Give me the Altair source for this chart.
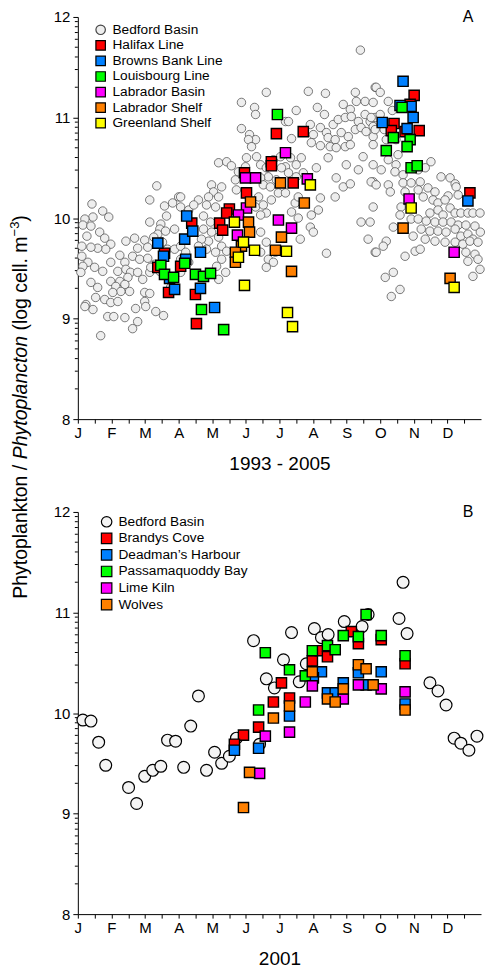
import altair as alt
import pandas as pd

FONT = "Liberation Sans"

# ---------------- Panel A (1993 - 2005) : (month, log cells m-3) ----------------
sites_a = ["Bedford Basin", "Halifax Line", "Browns Bank Line", "Louisbourg Line",
           "Labrador Basin", "Labrador Shelf", "Greenland Shelf"]
colors_a = ["#EEEEEE", "#FF0000", "#0080FF", "#00FF00", "#FF00FF", "#FF8000", "#FFFF00"]

bedford_a = [
    (2.35, 10.32), (2.14, 10.18), (3.00, 10.21), (2.82, 10.15), (2.58, 10.12), (2.64, 10.02),
    (0.42, 10.14), (0.74, 10.07), (0.92, 10.01), (0.45, 10.01), (0.21, 9.99), (0.15, 9.93),
    (0.39, 9.92), (2.14, 9.96), (2.47, 9.94), (2.44, 9.89), (2.38, 9.84), (2.61, 9.87),
    (2.88, 9.89), (0.27, 9.82), (0.65, 9.86), (0.80, 9.80), (0.98, 9.74), (0.83, 9.69),
    (0.59, 9.70), (0.39, 9.71), (0.12, 9.72), (1.43, 9.77), (1.69, 9.80), (1.99, 9.78),
    (2.26, 9.81), (2.08, 9.71), (1.78, 9.70), (2.52, 9.76), (2.67, 9.69), (2.88, 9.69),
    (2.58, 9.62), (0.12, 9.62), (0.30, 9.56), (0.50, 9.51), (0.15, 9.52), (0.09, 9.46),
    (0.74, 9.47), (0.98, 9.56), (1.25, 9.63), (1.40, 9.56), (1.63, 9.62), (1.84, 9.59),
    (2.08, 9.60), (2.29, 9.54), (2.44, 9.47), (2.14, 9.46), (1.19, 9.47), (1.43, 9.49),
    (1.57, 9.46), (1.78, 9.46), (1.93, 9.39), (1.49, 9.41), (1.25, 9.37), (0.98, 9.37),
    (1.13, 9.32), (1.40, 9.34), (1.54, 9.27), (1.28, 9.27), (1.04, 9.26), (0.39, 9.36),
    (0.59, 9.31), (0.53, 9.21), (0.80, 9.19), (0.98, 9.16), (1.19, 9.17), (0.24, 9.14),
    (0.45, 9.09), (0.21, 9.12), (1.99, 9.26), (2.14, 9.25), (1.99, 9.17), (2.02, 9.12),
    (1.72, 9.10), (2.76, 9.31), (2.32, 9.07), (2.55, 9.03), (0.89, 9.02), (1.07, 9.02),
    (1.40, 9.01), (1.78, 8.97), (1.63, 8.90), (0.68, 8.83), (2.17, 9.51),
    (5.61, 11.25), (4.87, 11.15), (5.26, 11.10), (5.29, 11.03), (6.18, 10.96), (4.87, 10.89),
    (5.11, 10.83), (5.29, 10.78), (5.08, 10.78), (5.17, 10.71), (5.02, 10.60), (5.32, 10.61),
    (5.44, 10.53), (5.61, 10.50), (5.82, 10.58), (6.03, 10.61), (4.19, 10.55), (4.43, 10.56),
    (4.57, 10.52), (4.99, 10.51), (4.78, 10.46), (5.67, 10.41), (5.44, 10.40), (5.52, 10.33),
    (5.73, 10.31), (5.91, 10.38), (5.97, 10.25), (3.98, 10.33), (4.28, 10.31), (4.04, 10.26),
    (3.89, 10.21), (3.83, 10.13), (3.59, 10.18), (4.19, 10.21), (4.10, 10.11), (4.69, 10.38),
    (4.72, 10.28), (5.38, 10.21), (5.29, 10.11), (5.52, 10.13), (5.61, 10.05), (5.44, 10.03),
    (5.76, 10.18), (3.06, 10.21), (3.06, 10.11), (3.30, 10.08), (3.45, 10.13), (3.74, 10.02),
    (3.95, 9.96), (3.74, 9.89), (3.98, 9.86), (4.19, 9.81), (3.89, 9.77), (3.68, 9.79),
    (3.59, 9.72), (3.83, 9.69), (4.10, 9.66), (4.28, 9.72), (4.43, 9.67), (3.06, 9.72),
    (3.21, 9.66), (3.06, 9.59), (3.30, 9.56), (4.28, 9.59), (4.13, 9.52), (4.19, 9.39),
    (4.40, 9.46), (5.44, 9.86), (5.61, 9.76), (5.44, 9.66), (5.67, 9.59), (5.88, 9.66),
    (5.82, 9.56), (5.61, 9.51), (3.06, 9.46),
    (8.41, 11.67), (6.86, 11.26), (7.37, 11.24), (8.26, 11.25), (8.85, 11.30), (6.50, 11.07),
    (7.13, 11.10), (7.34, 11.03), (7.90, 11.13), (8.11, 11.08), (8.29, 11.16), (8.55, 11.16),
    (6.27, 10.96), (6.36, 10.79), (6.92, 10.93), (7.01, 10.83), (7.22, 10.90), (7.40, 10.85),
    (7.60, 10.93), (7.75, 10.98), (7.96, 11.00), (8.14, 11.01), (8.35, 10.96), (8.55, 11.03),
    (8.70, 10.96), (8.85, 11.00), (6.95, 10.75), (7.22, 10.72), (7.45, 10.80), (7.66, 10.78),
    (7.84, 10.85), (8.05, 10.81), (8.26, 10.88), (8.43, 10.90), (8.58, 10.86), (8.79, 10.81),
    (7.51, 10.71), (7.69, 10.70), (7.96, 10.71), (8.11, 10.73), (8.49, 10.61), (8.79, 10.53),
    (8.35, 10.48), (7.99, 10.53), (7.45, 10.60), (6.65, 10.60), (6.50, 10.53), (6.18, 10.51),
    (6.33, 10.60), (7.10, 10.50), (6.71, 10.45), (6.50, 10.41), (6.27, 10.45), (6.06, 10.50),
    (7.69, 10.40), (7.90, 10.31), (8.11, 10.34), (8.79, 10.36), (7.22, 10.20), (7.16, 10.08),
    (6.95, 10.03), (6.47, 10.15), (6.36, 10.06), (6.18, 10.25), (6.56, 10.21), (7.66, 10.21),
    (6.56, 10.00), (6.92, 9.91), (7.01, 9.86), (6.62, 9.79), (8.43, 9.96), (8.70, 9.96),
    (8.64, 9.79), (7.40, 9.65), (8.85, 9.66),
    (8.88, 11.30), (9.00, 11.25), (9.24, 11.16), (8.79, 11.15), (8.73, 11.00), (9.00, 11.03),
    (8.79, 10.91), (8.85, 10.88), (9.18, 10.78), (9.47, 10.78), (8.79, 10.73), (9.53, 10.63),
    (9.24, 10.58), (9.47, 10.53), (10.51, 10.56), (10.34, 10.50), (10.13, 10.48), (9.03, 10.48),
    (9.44, 10.46), (9.68, 10.43), (10.81, 10.41), (11.08, 10.40), (11.23, 10.34), (11.26, 10.31),
    (8.73, 10.36), (8.88, 10.33), (9.24, 10.33), (9.30, 10.26), (9.68, 10.35), (9.74, 10.26),
    (9.92, 10.35), (10.19, 10.36), (10.13, 10.28), (10.42, 10.30), (10.63, 10.26), (10.28, 10.21),
    (11.02, 10.22), (11.32, 10.23), (10.57, 10.18), (10.72, 10.15), (10.93, 10.18), (8.79, 10.11),
    (9.62, 10.11), (9.59, 10.03), (9.92, 9.99), (10.48, 10.05), (10.72, 10.08), (10.87, 10.03),
    (11.08, 10.10), (11.23, 10.05), (11.40, 10.05), (11.61, 10.05), (11.76, 10.05), (11.97, 10.05),
    (10.13, 9.99), (10.37, 9.97), (10.63, 9.96), (10.87, 9.96), (11.11, 9.96), (11.32, 9.93),
    (11.55, 9.93), (11.82, 9.92), (9.39, 9.91), (9.98, 9.82), (10.22, 9.89), (10.48, 9.87),
    (10.72, 9.87), (10.96, 9.86), (11.23, 9.89), (11.40, 9.82), (11.61, 9.84), (11.76, 9.79),
    (11.98, 9.86), (9.18, 9.77), (9.09, 9.72), (8.88, 9.66), (10.04, 9.67), (10.19, 9.69),
    (9.74, 9.62), (10.34, 9.79), (10.63, 9.77), (10.93, 9.76), (11.23, 9.76), (11.46, 9.74),
    (11.67, 9.77), (11.91, 9.76), (11.55, 9.66), (11.82, 9.64), (11.61, 9.57), (11.91, 9.59),
    (11.97, 9.49), (11.76, 9.42), (9.39, 9.46), (9.15, 9.41), (9.59, 9.29), (9.33, 9.22),
    (9.36, 11.07), (9.12, 10.88),
]
halifax_a = [
    (2.58, 9.65), (2.38, 9.51), (3.06, 9.52), (3.39, 9.95), (3.50, 9.24), (3.53, 8.95),
    (2.70, 9.26), (4.22, 9.95), (4.31, 9.88), (4.51, 10.09), (4.43, 10.05), (4.96, 10.45),
    (5.02, 10.25), (5.76, 10.56), (5.76, 10.52), (5.91, 10.84), (6.71, 10.86), (6.41, 10.35),
    (9.41, 10.94), (9.33, 10.87), (9.74, 10.86), (10.16, 10.87), (10.01, 11.22), (11.67, 10.25),
    (9.89, 11.13),
]
browns_a = [
    (2.38, 9.75), (2.55, 9.62), (2.73, 9.40), (3.24, 10.02), (3.18, 9.79), (3.21, 9.59),
    (3.65, 9.66), (3.42, 9.87), (2.88, 9.29), (3.65, 9.30), (4.07, 9.11), (9.68, 11.36),
    (9.59, 11.12), (9.92, 11.11), (9.98, 11.00), (9.06, 10.95), (9.80, 10.89), (11.61, 10.17),
]
louisbourg_a = [
    (2.47, 9.53), (2.58, 9.44), (2.85, 9.41), (3.18, 9.55), (3.50, 9.44), (3.74, 9.42),
    (3.95, 9.45), (3.68, 9.09), (4.34, 8.89), (5.94, 11.03), (9.65, 11.10), (9.39, 10.80),
    (9.89, 10.78), (9.80, 10.71), (9.18, 10.67), (9.92, 10.50), (10.10, 10.52),
]
labbasin_a = [
    (4.99, 10.40), (5.29, 10.40), (5.02, 10.10), (4.78, 10.03), (4.75, 9.83), (5.97, 9.98),
    (6.18, 10.65), (6.83, 10.39), (6.36, 9.90), (9.86, 10.19), (11.20, 9.66),
]
labshelf_a = [
    (6.03, 10.35), (5.14, 10.16), (5.08, 9.96), (5.11, 9.86), (4.87, 9.72), (4.69, 9.66),
    (4.69, 9.56), (5.88, 9.68), (6.74, 10.15), (6.06, 9.81), (6.36, 9.47), (9.68, 9.90),
    (11.08, 9.40),
]
greenland_a = [
    (4.66, 9.96), (4.93, 9.76), (4.78, 9.61), (5.26, 9.68), (6.21, 9.67), (4.96, 9.33),
    (6.92, 10.33), (6.24, 9.06), (6.39, 8.92), (9.92, 10.10), (11.20, 9.31),
]

# ---------------- Panel B (2001) ----------------
sites_b = ["Bedford Basin", "Brandys Cove", "Deadman\u2019s Harbour", "Passamaquoddy Bay",
           "Lime Kiln", "Wolves"]
colors_b = ["#F4F4F4", "#FF0000", "#0080FF", "#00FF00", "#FF00FF", "#FF8000"]

bedford_b = [
    (0.15, 9.93), (0.39, 9.92), (0.62, 9.71), (0.83, 9.48), (1.51, 9.26), (1.75, 9.10),
    (1.99, 9.37), (2.23, 9.43), (2.47, 9.47), (2.67, 9.73), (2.91, 9.72), (3.15, 9.46),
    (3.36, 9.87), (3.59, 10.17), (3.83, 9.43), (4.07, 9.61), (4.28, 9.50), (4.51, 9.57),
    (4.72, 9.75), (5.41, 9.69), (5.23, 10.72), (5.61, 10.34), (5.85, 10.25), (6.36, 10.80),
    (7.04, 10.84), (7.25, 10.75), (7.45, 10.78), (7.93, 10.91), (8.46, 10.86), (8.64, 10.98),
    (9.56, 10.94), (9.80, 10.79), (6.12, 10.53), (6.80, 10.49), (6.59, 10.31), (10.48, 10.30),
    (10.72, 10.22), (10.96, 10.08), (11.20, 9.75), (11.40, 9.70), (11.64, 9.63), (11.88, 9.77),
    (9.68, 11.30),
]
brandys_b = [
    (5.82, 10.11), (4.93, 9.78), (5.38, 9.86), (4.66, 9.69), (6.06, 10.30), (6.98, 10.52),
    (7.22, 10.62), (7.43, 10.56), (8.14, 10.81), (8.35, 10.69), (9.03, 10.73), (6.30, 10.15),
    (9.74, 10.49),
]
deadman_b = [
    (4.66, 9.63), (5.38, 9.65), (7.25, 10.41), (7.01, 10.35), (6.30, 9.97), (7.43, 10.20),
    (7.66, 10.20), (7.90, 10.30), (8.35, 10.40), (8.58, 10.28), (9.03, 10.41), (9.74, 10.09),
]
passama_b = [
    (5.58, 10.60), (5.38, 10.03), (6.30, 10.43), (6.77, 10.37), (6.98, 10.62), (7.43, 10.67),
    (7.66, 10.63), (7.90, 10.77), (8.35, 10.76), (8.58, 10.98), (9.03, 10.77), (9.74, 10.57),
]
limekiln_b = [
    (5.58, 9.77), (5.41, 9.40), (6.30, 9.81), (6.77, 10.11), (6.98, 10.27), (7.90, 10.14),
    (8.35, 10.28), (9.03, 10.24), (9.74, 10.21),
]
wolves_b = [
    (5.82, 9.95), (5.11, 9.41), (4.93, 9.06), (6.30, 10.07), (6.98, 10.41), (7.43, 10.14),
    (7.66, 10.11), (7.90, 10.24), (8.35, 10.48), (8.58, 10.44), (8.79, 10.28), (9.74, 10.03),
]

month_labels = ["J", "F", "M", "A", "M", "J", "J", "A", "S", "O", "N", "D"]
y_major = [8, 9, 10, 11, 12]
decade_minor = [0.301, 0.477, 0.602, 0.699, 0.778, 0.845, 0.903, 0.954]


def frame(series, key):
    rows = []
    for site, pts in series:
        for m, v in pts:
            rows.append({key: site, "month": m, "logc": v})
    return pd.DataFrame(rows)


df_a = frame([(sites_a[0], bedford_a), (sites_a[1], halifax_a), (sites_a[2], browns_a),
              (sites_a[3], louisbourg_a), (sites_a[4], labbasin_a), (sites_a[5], labshelf_a),
              (sites_a[6], greenland_a)], "site_a")
df_b = frame([(sites_b[0], bedford_b), (sites_b[1], brandys_b), (sites_b[2], deadman_b),
              (sites_b[3], passama_b), (sites_b[4], limekiln_b), (sites_b[5], wolves_b)],
             "site_b")

minor_df = pd.DataFrame({"logc": [k + d for k in range(8, 12) for d in decade_minor]})
one = pd.DataFrame({"a": [0]})

W, H = 404, 403
GAP = 93
x_ticks = [i / 2 for i in range(24)]
label_expr = ("datum.value % 1 === 0 ? " + str(month_labels) + "[datum.value] : ''")


def panel(df, key, sites, colors, xtitle, letter, circ_size, circ_stroke, circ_sw,
          sym_size, legx, legy, with_ytitle=False):
    xenc = alt.X("month:Q", scale=alt.Scale(domain=[0, 12], nice=False, zero=False),
                 axis=alt.Axis(values=x_ticks, labelExpr=label_expr, title=xtitle,
                               tickSize=4, labelFlush=False, labelOverlap=False,
                               labelFontSize=15, labelPadding=2, titleFontSize=19,
                               titlePadding=14, titleFontWeight="normal", grid=False))
    yenc = alt.Y("logc:Q", scale=alt.Scale(domain=[8, 12], nice=False, zero=False),
                 axis=alt.Axis(values=y_major, title=None, tickSize=5, labelFontSize=15,
                               labelPadding=3, grid=False, format="d"))
    leg = alt.Legend(orient="none", legendX=legx, legendY=legy, title=None, padding=0,
                     labelFont=FONT, labelFontSize=13.7, symbolSize=sym_size,
                     symbolStrokeWidth=1.2, rowPadding=0.6, labelOffset=5, labelLimit=300)
    shapes = ["circle"] + ["square"] * (len(sites) - 1)
    strokes = [circ_stroke] + ["black"] * (len(sites) - 1)
    fill = alt.Fill(f"{key}:N", scale=alt.Scale(domain=sites, range=colors), legend=leg)
    shape = alt.Shape(f"{key}:N", scale=alt.Scale(domain=sites, range=shapes), legend=leg)
    stroke = alt.Stroke(f"{key}:N", scale=alt.Scale(domain=sites, range=strokes), legend=leg)

    circles = alt.Chart(df[df[key] == sites[0]]).mark_point(
        filled=True, size=circ_size, opacity=1, strokeWidth=circ_sw
    ).encode(x=xenc, y=yenc, fill=fill, shape=shape, stroke=stroke)
    squares = alt.Chart(df[df[key] != sites[0]]).mark_point(
        filled=True, size=105, opacity=1, strokeWidth=1.4
    ).encode(x=xenc, y=yenc, fill=fill, shape=shape, stroke=stroke)
    minor = alt.Chart(minor_df).mark_rule(color="black", strokeWidth=1).encode(
        y=yenc, x=alt.value(-3), x2=alt.value(0))
    tag = alt.Chart(one).mark_text(text=letter, font=FONT, fontSize=16, align="center",
                                   baseline="middle").encode(x=alt.value(W - 13), y=alt.value(0))
    layers = [minor, circles, squares, tag]
    if with_ytitle:
        xt = -57
        fs = 19.5
        sup = 13
        w1, sp, w2, w3 = 6.893 * fs, 0.278 * fs, 6.337 * fs, 4.834 * fs
        w4 = 1.14 * sup
        s1 = 583  # bottom of the rotated title, in panel A pixel space
        s2 = s1 - w1 - sp
        s3 = s2 - w2 - sp
        s4 = s3 - w3
        s5 = s4 - w4
        segs = [
            ("Phytoplankton /", "normal", fs, s1, xt),
            ("Phytoplancton", "italic", fs, s2, xt),
            ("(log cell. m", "normal", fs, s3, xt),
            ("\u22123", "normal", sup, s4, xt - 5.5),
            (")", "normal", fs, s5, xt),
        ]
        for txt, style, size, ypos, xpos in segs:
            layers.append(alt.Chart(one).mark_text(
                text=txt, font=FONT, fontSize=size, fontStyle=style, angle=270,
                align="left", baseline="middle").encode(x=alt.value(xpos), y=alt.value(ypos)))
    return alt.layer(*layers).properties(width=W, height=H)


pa = panel(df_a, "site_a", sites_a, colors_a, "1993 - 2005", "A", 72, "#444444", 0.7, 90,
           16, 6, with_ytitle=True)
pb = panel(df_b, "site_b", sites_b, colors_b, "2001", "B", 140, "black", 1.2, 110, 22, 3)

chart = alt.vconcat(pa, pb, spacing=GAP, bounds="flush").resolve_scale(
    fill="independent", shape="independent", stroke="independent"
).resolve_legend(fill="independent", shape="independent", stroke="independent").properties(
    padding={"left": 9, "top": 8, "right": 0, "bottom": 0}
).configure_view(stroke=None).configure_axis(
    domainColor="black", tickColor="black", labelColor="black", titleColor="black",
    labelFont=FONT, titleFont=FONT, domainWidth=1, tickWidth=1
).configure_text(font=FONT)

chart.save("out.html", embed_options={"renderer": "svg", "actions": False})
